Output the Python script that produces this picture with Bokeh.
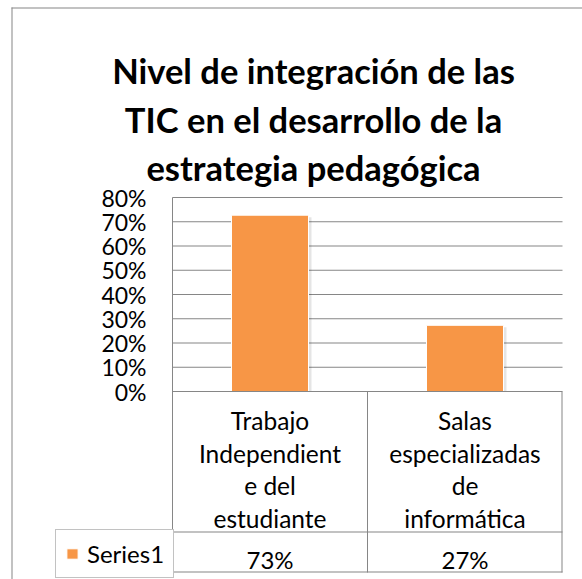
from bokeh.plotting import figure
from bokeh.models import (Range1d, FixedTicker, NumeralTickFormatter, Label,
                          Legend, LegendItem)
from bokeh.core.properties import value
from bokeh.embed import file_html
from bokeh.resources import INLINE

# ---- data ----
title_lines = ["Nivel de integración de las",
               "TIC en el desarrollo de la",
               "estrategia pedagógica"]
categories = ["Trabajo\nIndependient\ne del\nestudiante",
              "Salas\nespecializadas\nde\ninformática"]
series_name = "Series1"
values = [0.727, 0.273]
value_labels = ["73%", "27%"]
y_ticks = [0, 0.1, 0.2, 0.3, 0.4, 0.5, 0.6, 0.7, 0.8]

# ---- layout constants (pixels) ----
W, H = 582, 579
FRAME_L, FRAME_T, FRAME_R = 10, 6, 582
PLOT_L, PLOT_R = 172, 562
ZERO_PX = 391
PX_PER_UNIT = 242.5
CAT_PX = (PLOT_R - PLOT_L) / 2.0
ROW_SEP_PX = 531.5
TABLE_BOTTOM_PX = 571.5
FONT = "Lato"
GRAY = "#868686"
ORANGE = "#F79646"
PX_X = 1 / CAT_PX        # one pixel in x data units
PX_Y = 1 / PX_PER_UNIT   # one pixel in y data units


def y_of(px):
    return (ZERO_PX - px) / PX_PER_UNIT


def x_of(px):
    return (px - PLOT_L) / CAT_PX


p = figure(width=W, height=H, output_backend="svg", toolbar_location=None,
           x_range=Range1d(x_of(FRAME_L), x_of(FRAME_R)),
           y_range=Range1d(y_of(H), y_of(FRAME_T)),
           min_border_left=FRAME_L, min_border_right=W - FRAME_R,
           min_border_top=FRAME_T, min_border_bottom=0,
           x_axis_type=None)
p.outline_line_color = None
p.background_fill_color = "white"
p.border_fill_color = "white"
p.xgrid.visible = False
p.ygrid.visible = False


def hrule(ys, left, right):
    p.hbar(y=ys, left=left, right=right, height=PX_Y,
           fill_color=GRAY, line_color=None)


def vrule(xs_, bottom, top):
    p.vbar(x=xs_, bottom=bottom, top=top, width=PX_X,
           fill_color=GRAY, line_color=None)


# outer chart border (left and top edges; the rest lies outside the picture)
vrule([x_of(11.5)], y_of(H + 5), y_of(7))
hrule([y_of(7.5)], x_of(11), x_of(W + 5))

# horizontal gridlines over the plot area
hrule(y_ticks[1:], 0, 2)

# y axis, drawn at the left edge of the plot area
ax = p.yaxis[0]
ax.fixed_location = 0
ax.ticker = FixedTicker(ticks=y_ticks)
ax.formatter = NumeralTickFormatter(format="0%")
ax.major_tick_in = 0
ax.major_tick_out = 0
ax.minor_tick_in = 0
ax.minor_tick_out = 0
ax.axis_line_color = GRAY
ax.bounds = (y_of(TABLE_BOTTOM_PX + 0.5), 0.8)
ax.major_label_standoff = 26
ax.major_label_text_font = FONT
ax.major_label_text_font_size = "23px"
ax.major_label_text_color = "black"

# bars (soft shadow, then bar with thin white edge)
xs = [i + 0.5 for i in range(len(values))]
bar_w = 77 / CAT_PX
p.vbar(x=[x + 2 * PX_X for x in xs], top=[v - 2 * PX_Y for v in values],
       bottom=0, width=bar_w + 2 * PX_X, fill_color="black", fill_alpha=0.10,
       line_color=None)
bars = p.vbar(x=xs, top=values, bottom=0, width=bar_w,
              fill_color=ORANGE, line_color="white", line_width=1)

# data table lines
vrule([1, x_of(PLOT_R - 0.5)], y_of(TABLE_BOTTOM_PX + 0.5), 0)
hrule([0, y_of(ROW_SEP_PX), y_of(TABLE_BOTTOM_PX)], 0, 2)

# category labels (wrapped lines)
tx, ty, tt = [], [], []
for i, cat in enumerate(categories):
    for j, line in enumerate(cat.split("\n")):
        tx.append(i + 0.5)
        ty.append(y_of(420 + 32.5 * j))
        tt.append(line)
p.text(x=tx, y=ty, text=tt, text_align="center", text_baseline="alphabetic",
       text_font=value(FONT), text_font_size="24.5px", text_color="black")

# value row
p.text(x=xs, y=[y_of(559)] * len(values), text=value_labels,
       text_align="center", text_baseline="alphabetic",
       text_font=value(FONT), text_font_size="24px", text_color="black")

# title
for k, line in enumerate(title_lines):
    p.add_layout(Label(x=x_of(313), y=y_of(70 + 48.5 * k), text=line,
                       text_align="center", text_baseline="alphabetic",
                       text_font=FONT, text_font_style="bold",
                       text_font_size="34.5px", text_color="black"))

# legend cell of the data table
legend = Legend(items=[LegendItem(label=series_name, renderers=[bars])],
                location=(45, 1), orientation="vertical",
                border_line_color=GRAY, border_line_width=1,
                background_fill_color="white", background_fill_alpha=1,
                padding=9, margin=0, spacing=0,
                glyph_width=14, glyph_height=13, label_standoff=8,
                label_height=23, label_text_font=FONT,
                label_text_font_size="24px", label_text_color="black")
p.add_layout(legend)

open("out.html", "w").write(file_html(p, INLINE))
